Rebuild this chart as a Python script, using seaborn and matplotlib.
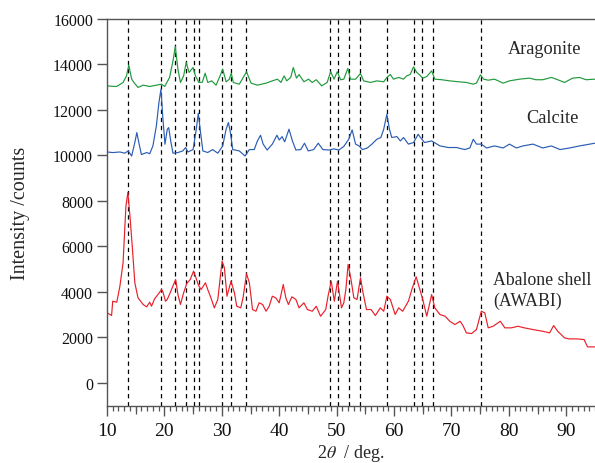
import numpy as np
import pandas as pd
import matplotlib
matplotlib.use("Agg")
import matplotlib.pyplot as plt
import matplotlib.lines as mlines
from matplotlib.ticker import MultipleLocator
import seaborn as sns

# XRD patterns (2theta in degrees, intensity in counts; reference patterns are offset)
abalone_2theta = [10.05, 10.8, 11.0, 11.7, 12.25, 12.8, 13.3, 13.64, 14.0, 14.4, 14.85, 15.4, 16.3, 16.9,
                  17.45, 17.75, 18.3, 19.1, 19.5, 19.7, 20.2, 20.5, 21.0, 21.96, 22.36, 22.8, 23.35, 23.9,
                  24.5, 25.08, 25.5, 25.95, 26.4, 27.15, 27.55, 28.0, 28.7, 29.3, 29.7, 30.05, 30.45, 30.9,
                  31.6, 32.2, 32.6, 33.3, 33.7, 34.3, 34.8, 35.35, 35.95, 36.5, 37.1, 37.7, 38.25, 38.8,
                  39.4, 40.0, 40.7, 41.15, 41.6, 42.2, 42.9, 43.45, 44.3, 44.9, 45.75, 46.45, 47.2, 48.1,
                  48.5, 49.05, 49.6, 50.15, 50.85, 51.25, 51.6, 52.0, 52.5, 53.0, 53.55, 54.15, 54.6, 55.2,
                  56.0, 56.75, 57.6, 58.2, 58.75, 59.35, 60.2, 60.8, 61.5, 62.5, 63.1, 63.85, 64.4, 65.0,
                  65.7, 66.55, 67.1, 68.0, 68.9, 69.7, 70.6, 71.5, 72.0, 72.6, 73.5, 74.35, 75.2, 75.8,
                  76.4, 77.25, 78.5, 79.3, 80.4, 81.6, 82.7, 84.2, 85.9, 87.1, 87.8, 88.5, 89.7, 90.5,
                  91.9, 93.1, 93.7, 95.0]
abalone_counts = [3082, 2963, 3593, 3549, 4254, 5284, 7776, 8380, 7336, 6015, 4403, 3743, 3448, 3347,
                  3549, 3373, 3699, 3963, 4108, 4040, 3593, 3670, 3963, 4549, 3888, 3448, 3963, 4373,
                  4549, 4915, 4623, 4285, 4108, 4403, 4108, 3813, 3302, 3668, 4549, 5354, 5064, 3813,
                  4474, 3963, 3373, 3302, 3743, 4800, 4403, 3227, 3153, 3523, 3450, 3153, 3373, 3813,
                  3740, 3523, 4328, 3743, 3448, 3787, 3670, 3302, 3523, 3227, 3153, 3373, 2933, 3227,
                  3813, 4474, 3593, 4474, 3302, 3523, 4100, 5209, 4549, 3743, 3668, 4623, 3963, 3227,
                  3227, 2963, 3302, 3153, 3813, 3668, 3007, 3302, 3153, 3593, 4108, 4667, 4183, 3668,
                  2933, 3888, 3302, 3007, 2933, 2712, 2567, 2712, 2523, 2201, 2171, 2347, 3153, 3082,
                  2422, 2492, 2712, 2422, 2422, 2492, 2422, 2347, 2272, 2201, 2523, 2272, 1981, 1937,
                  1937, 1907, 1585, 1585]

calcite_2theta = [10.05, 11.0, 12.25, 13.1, 13.7, 14.3, 14.85, 15.2, 15.6, 16.0, 16.9, 17.45, 18.0, 18.6,
                  19.05, 19.4, 19.75, 20.1, 20.5, 20.75, 21.1, 21.5, 22.36, 23.2, 23.7, 24.1, 25.0, 25.55,
                  25.9, 26.3, 26.7, 27.55, 28.4, 29.3, 30.15, 30.75, 31.15, 31.5, 31.9, 33.05, 34.05, 34.8,
                  35.65, 36.2, 36.75, 37.2, 37.9, 38.8, 39.6, 40.0, 40.5, 40.95, 41.7, 42.3, 42.9, 43.75,
                  44.4, 45.05, 46.0, 46.8, 47.6, 48.65, 49.5, 50.4, 51.25, 52.1, 52.7, 53.3, 53.9, 54.5,
                  55.35, 56.15, 57.0, 57.7, 58.2, 58.75, 59.2, 59.6, 60.5, 61.1, 61.65, 62.5, 63.4, 64.2,
                  64.6, 65.3, 66.55, 68.0, 69.45, 70.9, 72.3, 73.2, 73.8, 74.35, 75.2, 76.1, 77.5, 79.0,
                  80.1, 81.3, 82.45, 84.2, 85.9, 87.4, 88.9, 90.6, 92.3, 95.0]
calcite_counts = [10154, 10128, 10154, 10100, 10200, 9978, 10568, 11008, 10500, 10040, 10128, 10080, 10420, 11300,
                  12330, 12915, 11594, 10494, 11155, 11225, 10640, 10100, 10130, 10200, 10348, 10154, 10260, 11155,
                  11858, 11008, 10200, 10130, 10260, 10100, 10420, 11155, 11449, 11008, 10260, 10200, 9978, 10260,
                  10260, 10640, 10890, 10500, 10240, 10500, 10890, 10680, 10830, 10600, 11155, 10640, 10240, 10260,
                  10540, 10200, 10260, 10540, 10260, 10240, 10290, 10240, 10400, 10713, 11125, 10500, 10420, 10260,
                  10330, 10500, 10713, 10790, 11155, 11814, 11155, 10790, 10830, 10640, 10790, 10500, 10570, 10933,
                  10790, 10570, 10640, 10420, 10350, 10350, 10260, 10330, 10713, 10500, 10500, 10330, 10420, 10330,
                  10500, 10330, 10420, 10500, 10330, 10420, 10260, 10330, 10420, 10540]

aragonite_2theta = [10.05, 11.0, 11.7, 12.8, 13.4, 13.8, 14.3, 14.7, 15.4, 16.3, 17.45, 18.6, 19.5, 20.05,
                    20.9, 21.5, 21.9, 22.35, 22.8, 23.35, 23.8, 24.3, 25.0, 25.4, 26.0, 26.6, 27.1, 27.55,
                    28.25, 29.0, 29.7, 30.15, 30.75, 31.3, 31.65, 32.0, 33.05, 34.3, 35.1, 36.2, 37.7, 38.8,
                    39.7, 40.3, 40.85, 41.3, 42.0, 42.45, 43.0, 43.45, 44.3, 45.1, 45.75, 46.45, 47.4, 48.35,
                    48.95, 49.55, 50.1, 50.7, 51.25, 51.95, 52.4, 53.3, 54.15, 54.7, 55.9, 57.0, 58.2, 58.75,
                    59.35, 59.9, 60.8, 61.65, 62.2, 62.8, 63.4, 63.95, 64.4, 65.0, 65.7, 66.55, 67.1, 68.3,
                    69.7, 71.2, 72.6, 73.8, 74.35, 75.05, 75.6, 76.4, 77.5, 79.0, 80.1, 81.85, 83.6, 84.7,
                    85.9, 87.4, 88.5, 89.7, 91.1, 92.3, 93.45, 95.0]
aragonite_counts = [13060, 13040, 13034, 13210, 13500, 13972, 13355, 13210, 12990, 13091, 13034, 13091, 13135, 13034,
                    13430, 14161, 14795, 13796, 13210, 13500, 14091, 13650, 13870, 13500, 13210, 13220, 13620, 13210,
                    13280, 13091, 13500, 13796, 13236, 13350, 13620, 13210, 13135, 13679, 13180, 13091, 13180, 13280,
                    13355, 13210, 13500, 13280, 13430, 13870, 13400, 13560, 13240, 13355, 13210, 13330, 13060, 13210,
                    13680, 13355, 13680, 13330, 13355, 13826, 13355, 13355, 13605, 13280, 13210, 13280, 13240, 13430,
                    13560, 13355, 13430, 13355, 13500, 13560, 13897, 13650, 13560, 13400, 13470, 13720, 13355, 13330,
                    13280, 13240, 13210, 13135, 13180, 13545, 13355, 13310, 13355, 13180, 13280, 13355, 13400, 13330,
                    13330, 13430, 13330, 13210, 13400, 13430, 13330, 13355]

# Peak positions marked with dashed guide lines (deg)
peak_positions = [13.7, 19.4, 21.9, 23.8, 25.1, 26.0, 30.0, 31.6, 34.2, 48.9, 50.2, 52.1, 54.1,
                  58.8, 63.4, 64.8, 66.7, 75.2]

series_names = ["Aragonite", "Calcite", "Abalone shell"]
series_colors = ["#1f9a3c", "#2b5cb4", "#e8202a"]

df = pd.concat([
    pd.DataFrame({"two_theta": aragonite_2theta, "counts": aragonite_counts, "sample": "Aragonite"}),
    pd.DataFrame({"two_theta": calcite_2theta, "counts": calcite_counts, "sample": "Calcite"}),
    pd.DataFrame({"two_theta": abalone_2theta, "counts": abalone_counts, "sample": "Abalone shell"}),
], ignore_index=True)

sns.set_style("ticks")
plt.rcParams["font.family"] = ["Liberation Serif", "DejaVu Serif"]
plt.rcParams["mathtext.fontset"] = "stix"

fig = plt.figure(figsize=(5.95, 4.64), dpi=100)
ax = fig.add_axes([0.1798, 0.1235, 0.8202, 0.8334])

for xp in peak_positions:
    ax.axvline(xp, color="black", lw=0.9, ls=(0, (3.5, 3)), zorder=1)

sns.lineplot(data=df, x="two_theta", y="counts", hue="sample", hue_order=series_names,
             palette=series_colors, lw=0.85, legend=False, sort=False, estimator=None, ax=ax, zorder=2)

ax.set_xlim(10, 95)
ax.set_ylim(-1000, 16000)
ax.xaxis.set_major_locator(MultipleLocator(10))
ax.xaxis.set_minor_locator(MultipleLocator(1))
ax.yaxis.set_major_locator(MultipleLocator(2000))

spine_col = "#555555"
for side in ["left", "bottom", "top"]:
    ax.spines[side].set_color(spine_col)
    ax.spines[side].set_linewidth(1.0)
ax.spines["right"].set_visible(False)

ax.tick_params(axis="both", which="major", direction="out", length=7, width=1.0,
               color=spine_col, labelcolor="#111111")
ax.tick_params(axis="x", which="major", labelsize=14, pad=5)
ax.tick_params(axis="y", which="major", labelsize=11.5, pad=3)
ax.tick_params(axis="x", which="minor", direction="out", length=3.5, width=0.9, color=spine_col)

# intermediate ticks every 5 deg
mid_ticks = [x for x in range(15, 95, 10)]
ax.plot(mid_ticks, [0] * len(mid_ticks), ls="none", marker=mlines.TICKDOWN, markersize=5.5,
        markeredgewidth=0.9, color=spine_col, clip_on=False,
        transform=ax.get_xaxis_transform(), zorder=5)

ax.set_xlabel(r"2$\theta$  / deg.", fontsize=13, labelpad=2)
ax.set_ylabel("Intensity /counts", fontsize=14.5)
ax.yaxis.set_label_coords(-0.158, 0.5)

ax.text(79.9, 14720, "Aragonite", fontsize=13.2, ha="left", va="center")
ax.text(83.1, 11680, "Calcite", fontsize=13.2, ha="left", va="center")
ax.text(77.2, 4527, "Abalone shell", fontsize=12.8, ha="left", va="center")
ax.text(77.2, 3648, "(AWABI)", fontsize=12.8, ha="left", va="center")

fig.savefig("out.png", dpi=100)
